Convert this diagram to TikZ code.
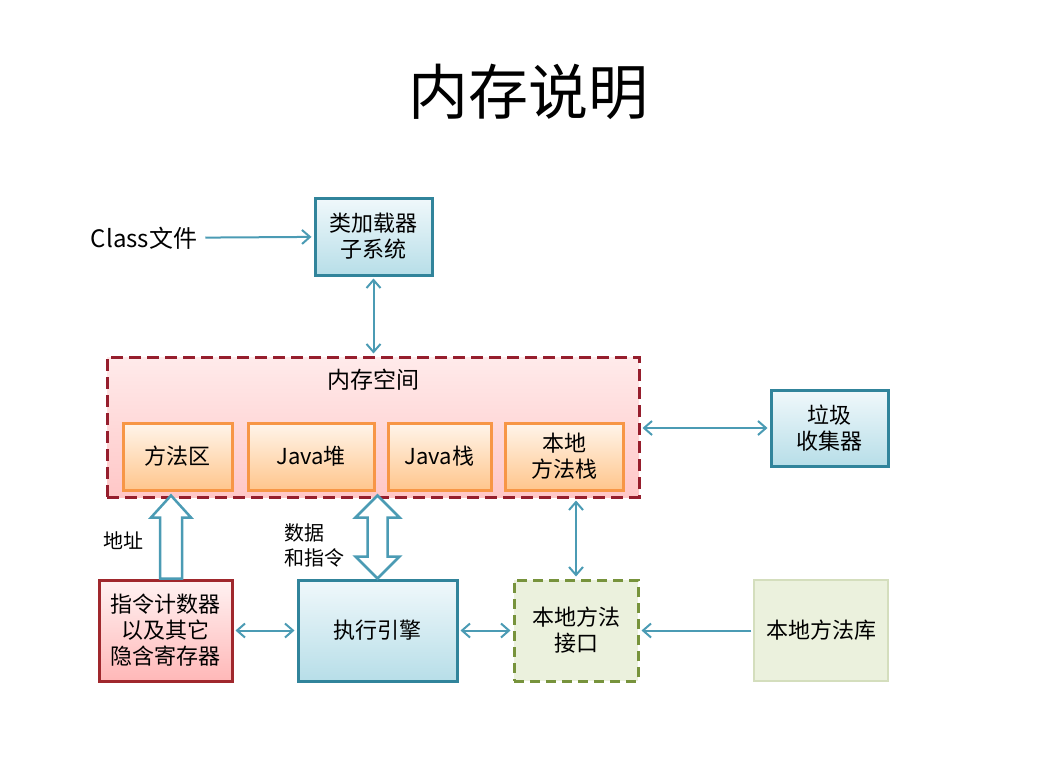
\documentclass[tikz,border=0pt]{standalone}
\usepackage{fontspec}
\setmainfont{Noto Sans CJK SC}
\usepackage{xcolor}
\usepackage{tikz}
\usetikzlibrary{arrows.meta, positioning, calc}
\definecolor{tealline}{RGB}{49,132,155}
\definecolor{arrowteal}{RGB}{75,155,180}
\definecolor{bluetop}{RGB}{240,248,251}
\definecolor{bluebottom}{RGB}{183,222,232}
\definecolor{memred}{RGB}{150,30,45}
\definecolor{pcred}{RGB}{160,40,45}
\definecolor{orangeline}{RGB}{247,150,70}
\definecolor{greenline}{RGB}{119,147,60}
\definecolor{greenfill}{RGB}{235,241,221}

\begin{document}
\begin{tikzpicture}[x=1pt, y=-1pt,
    >={Straight Barb[length=8pt, width=14pt]},
    bluebox/.style={rectangle, draw=tealline, line width=3pt, top color=bluetop, bottom color=bluebottom,
                    align=center, font=\fontsize{22}{26}\selectfont, inner sep=0pt},
    membox/.style={rectangle, draw=orangeline, line width=3pt, top color=orange!8, bottom color=orange!45,
                   align=center, font=\fontsize{22}{26}\selectfont, minimum height=67, inner sep=0pt},
    link/.style={draw=arrowteal, line width=2pt, shorten <=2pt, shorten >=2pt},
    hollow/.style={draw=arrowteal, line width=2.5pt, fill=white, line join=miter},
    lbl/.style={font=\fontsize{20}{25}\selectfont, align=left}
]
    \useasboundingbox (0,0) rectangle (1043,778);

    \node[font=\fontsize{60}{70}\selectfont] (title) at (528,92) {内存说明};

    % top row
    \node[font=\fontsize{24}{28}\selectfont, inner sep=6pt] (classfile) at (144,238) {Class文件};
    \node[bluebox, minimum width=117, minimum height=77] (loader) at (373.5,236.5) {类加载器\\子系统};

    % memory space
    \node[rectangle, draw=memred, line width=3pt, dash pattern=on 12pt off 6pt,
          top color=red!8, bottom color=red!22, minimum width=532, minimum height=140] (mem) at (373,427) {};
    \node[font=\fontsize{23}{26}\selectfont] (memtitle) at (373,380) {内存空间};
    \node[membox, minimum width=109] (method) at (177.5,456.5) {方法区};
    \node[membox, minimum width=126] (heap) at (311,456.5) {Java堆};
    \node[membox, minimum width=103] (stack) at (439.5,456.5) {Java栈};
    \node[membox, minimum width=118] (nstack) at (564,456.5) {本地\\方法栈};

    \node[bluebox, minimum width=117, minimum height=76] (gc) at (829.5,428) {垃圾\\收集器};

    % bottom row
    \node[rectangle, draw=pcred, line width=3pt, top color=red!5, bottom color=red!28,
          minimum width=133, minimum height=101, align=center, inner sep=0pt,
          font=\fontsize{22}{26}\selectfont] (pc) at (165.5,630.5) {指令计数器\\以及其它\\隐含寄存器};
    \node[bluebox, minimum width=159, minimum height=101] (exec) at (377.5,630.5) {执行引擎};
    \node[rectangle, draw=greenline, line width=3pt, dash pattern=on 10pt off 6pt, fill=greenfill,
          minimum width=124, minimum height=101, align=center, inner sep=0pt,
          font=\fontsize{22}{26}\selectfont] (nif) at (576,630.5) {本地方法\\接口};
    \node[rectangle, draw=greenfill!80!greenline, line width=1.5pt, fill=greenfill,
          minimum width=134, minimum height=101, inner sep=0pt,
          font=\fontsize{22}{26}\selectfont] (nlib) at (821,630.5) {本地方法库};

    % connectors
    \draw[link, ->] (classfile) -- (loader);
    \draw[link, <->] (loader.south) -- (loader.south |- mem.north);
    \draw[link, <->] (mem.east |- gc) -- (gc);
    \draw[link, <->] (pc) -- (exec);
    \draw[link, <->] (exec) -- (nif);
    \draw[link, ->] (nlib) -- (nif);
    \draw[link, <->] (nif.north |- mem.south) -- (nif.north);

    % hollow arrows
    \draw[hollow] ($(pc.north)+(-5.5,0)$) -- ++(0,-61) -- ++(-9,0) -- ++(20,-22) -- ++(20,22)
        -- ++(-9,0) -- ++(0,61) -- cycle;
    \draw[hollow] (exec.north) -- ++(-22,-22) -- ++(12,0) -- ++(0,-39) -- ++(-12,0) -- ++(22,-22)
        -- ++(22,22) -- ++(-12,0) -- ++(0,39) -- ++(12,0) -- cycle;

    \node[lbl] (addr) at (123,541) {地址};
    \node[lbl] (data) at (314,545) {数据\\和指令};
\end{tikzpicture}
\end{document}
